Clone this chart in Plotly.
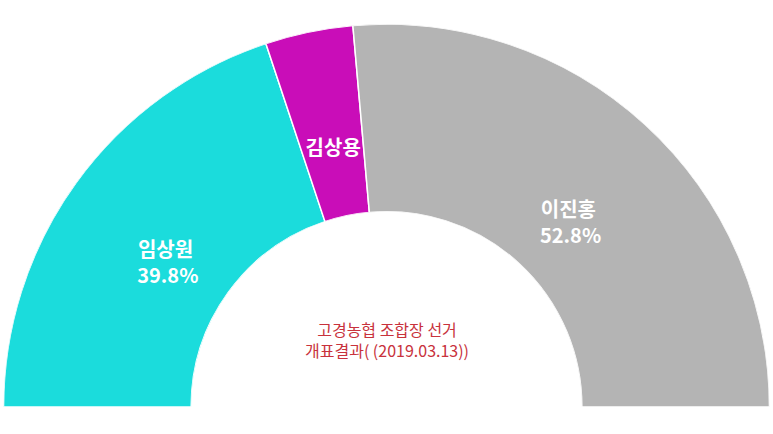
import plotly.graph_objects as go

# candidates and vote share (%)
candidates = ["임상원", "김상용", "이진홍"]
shares = [39.8, 7.4, 52.8]
colors = ["#1BDCDC", "#C90DB8", "#B4B4B4"]
labels = ["임상원<br> 39.8%", "김상용", "이진홍<br> 52.8%"]
title_text = "고경농협 조합장 선거<br>개표결과( (2019.03.13))"

# each slice becomes a bar on a half circle (180 degrees = 100%)
widths = [s * 1.8 for s in shares]
centers = []
start = 0
for w in widths:
    centers.append(start + w / 2)
    start += w

fig = go.Figure()
fig.add_trace(go.Barpolar(
    r=[1] * len(shares), theta=centers, width=widths,
    marker=dict(color=colors, line=dict(color="white", width=1.5)),
    hoverinfo="skip",
))
# labels inside the slices (nudged a bit like the original)
label_nudge = [-3, 0, 2.5]
fig.add_trace(go.Scatterpolar(
    r=[0.36, 0.36, 0.33], theta=[c + n for c, n in zip(centers, label_nudge)],
    mode="text", text=labels,
    textfont=dict(family="Noto Sans CJK KR", size=20, color="white", weight="bold"),
    hoverinfo="skip",
))

fig.update_layout(
    width=773, height=434,
    margin=dict(l=3, r=3, t=24, b=27),
    paper_bgcolor="white",
    showlegend=False,
    polar=dict(
        sector=[0, 180], hole=0.51, bgcolor="white",
        angularaxis=dict(rotation=180, direction="clockwise", visible=False),
        radialaxis=dict(range=[0, 1], visible=False),
    ),
    annotations=[dict(
        text=title_text, x=0.5, y=0.175, xref="paper", yref="paper",
        xanchor="center", yanchor="middle",
        showarrow=False, align="center",
        font=dict(family="Noto Sans CJK KR", size=16, color="#C8323C"),
    )],
)

# page body margin would push the figure out of the window
fig.write_html("out.html", config={"displayModeBar": False},
               post_script="document.body.style.margin='0';")
